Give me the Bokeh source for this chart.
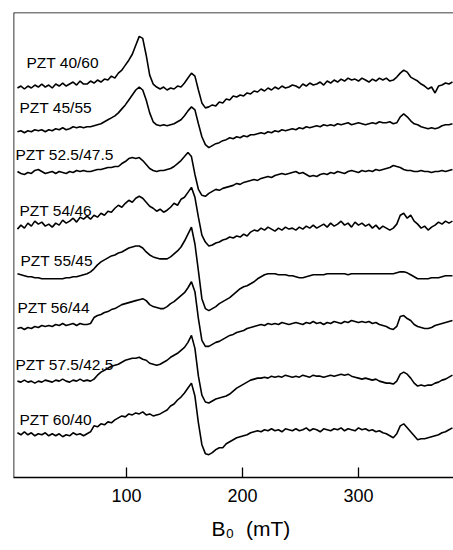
from bokeh.plotting import figure
from bokeh.models import Range1d, Span, Title, FixedTicker
from bokeh.embed import file_html
from bokeh.resources import INLINE
from bokeh.core.properties import value

# magnetic field sampling (mT)
field_mT = list(range(6, 382, 3))

samples = ["PZT 40/60", "PZT 45/55", "PZT 52.5/47.5", "PZT 54/46",
           "PZT 55/45", "PZT 56/44", "PZT 57.5/42.5", "PZT 60/40"]

# vertical stacking offset of each spectrum (a.u.)
offsets = [392, 348, 308, 252, 203, 150, 97, 44]

# EPR signal of each sample relative to its own baseline (a.u.)
sig_40_60 = [0, 2, -1, 2, 0, 3, 1, 4, 1, 3,
             0, 4, 2, 5, 2, 4, 6, 3, 7, 4,
             4, 7, 5, 8, 6, 9, 8, 12, 10, 15,
             18, 23, 28, 34, 43, 52, 50, 33, 13, 4,
             1, -1, 1, -2, 0, -1, 2, 1, 5, 10,
             15, 12, -2, -15, -20, -19, -17, -18, -14, -15,
             -11, -12, -8, -9, -7, -8, -5, -6, -3, -4,
             -1, -3, 0, -2, 1, -1, 2, 0, 1, 3,
             2, 0, 4, 2, 5, 3, 4, 6, 3, 7,
             5, 8, 6, 9, 7, 10, 8, 9, 7, 10,
             8, 6, 9, 7, 10, 8, 10, 7, 8, 11,
             15, 18, 16, 11, 9, 7, 4, 2, -1, 1,
             -5, 2, 3, 5, 4, 6]
sig_45_55 = [0, 1, -1, 1, 0, 2, 1, 2, 0, 2,
             1, 3, 2, 4, 2, 3, 5, 4, 5, 4,
             5, 5, 6, 7, 8, 10, 12, 14, 16, 19,
             23, 27, 32, 37, 42, 45, 42, 32, 19, 10,
             7, 6, 7, 6, 7, 8, 10, 12, 16, 21,
             25, 22, 8, -5, -13, -16, -14, -12, -11, -9,
             -8, -6, -7, -5, -6, -4, -5, -3, -3, -2,
             -1, -2, 0, -1, 1, 0, 2, 1, 2, 3,
             2, 4, 3, 5, 4, 5, 6, 5, 7, 6,
             7, 6, 8, 7, 8, 9, 7, 8, 9, 8,
             7, 8, 9, 8, 10, 9, 9, 10, 8, 9,
             15, 18, 15, 11, 8, 7, 5, 4, 3, 4,
             3, 4, 6, 7, 7, 8]
sig_52_5_47_5 = [0, -2, -3, -1, -2, 1, 2, 0, -2, -1,
                 0, -2, 0, -1, -2, 0, -1, 1, 0, 1,
                 0, 0, 1, 2, 2, 3, 4, 4, 5, 5,
                 8, 10, 13, 14, 13, 14, 11, 7, 3, 1,
                 0, 1, 1, 2, 3, 5, 8, 11, 15, 19,
                 15, -3, -18, -24, -25, -22, -20, -18, -19, -17,
                 -16, -15, -14, -12, -13, -11, -10, -9, -8, -9,
                 -7, -6, -5, -6, -4, -3, -2, -3, -2, -1,
                 0, -2, -1, -3, -5, -4, -5, -3, -2, -3,
                 -1, -2, 0, -1, -2, 0, 1, 0, -1, 1,
                 0, 1, 0, 2, 1, 2, 3, 4, 6, 5,
                 4, 2, 1, 1, 0, 0, 1, 0, 0, -1,
                 0, 0, 1, 0, 1, 2]
sig_54_46 = [-2, 2, -1, 4, 1, 6, 3, 5, 1, 3,
             0, 4, 2, 7, 4, 6, 9, 5, 10, 8,
             11, 8, 12, 10, 14, 12, 16, 15, 19, 22,
             20, 24, 27, 25, 29, 31, 29, 25, 21, 19,
             16, 18, 15, 17, 20, 24, 22, 28, 30, 35,
             40, 30, 10, -8, -15, -19, -18, -16, -15, -13,
             -12, -10, -11, -9, -10, -7, -9, -5, -3, -4,
             -1, -3, 0, -2, -4, -1, -3, 0, -2, -1,
             -3, 0, -2, 1, -1, 2, -1, 1, 3, 0,
             4, 1, 3, 6, 2, 4, 0, 5, 2, 4,
             1, 3, -1, 2, -2, 1, -1, -3, -1, 3,
             12, 14, 9, 12, 6, 3, -1, 1, -3, 0,
             2, 5, 3, 6, 4, 6]
sig_55_45 = [2, 1, 0, -1, -1, -2, -2, -3, -3, -3,
             -3, -3, -3, -3, -2, -2, -1, -1, 0, 1,
             2, 4, 7, 11, 14, 16, 18, 20, 21, 23,
             24, 26, 28, 29, 30, 30, 28, 24, 21, 19,
             18, 17, 17, 17, 19, 22, 25, 29, 35, 42,
             49, 32, 5, -23, -33, -35, -33, -31, -28, -26,
             -24, -22, -19, -16, -13, -11, -10, -8, -6, -3,
             -1, 1, 2, 2, 2, 1, 1, 1, 0, 0,
             -1, -2, -2, -1, 0, 1, 1, 1, 1, 2,
             2, 2, 2, 2, 2, 1, 2, 2, 2, 2,
             2, 2, 2, 2, 2, 2, 2, 2, 2, 3,
             4, 4, 3, 1, -1, -3, -3, -3, -3, -2,
             -2, -2, -1, 0, 0, 0]
sig_56_44 = [0, 1, -1, 1, 0, 2, 1, 3, 2, 3,
             2, 4, 3, 5, 3, 4, 5, 3, 5, 4,
             4, 5, 11, 13, 14, 16, 17, 19, 20, 22,
             24, 25, 26, 27, 28, 29, 30, 28, 24, 22,
             21, 20, 20, 22, 25, 27, 30, 33, 36, 41,
             47, 37, 10, -12, -18, -18, -16, -14, -13, -11,
             -9, -7, -6, -4, -3, -2, 0, 1, 2, 3,
             4, 3, 5, 4, 5, 4, 6, 5, 4, 5,
             6, 5, 4, 6, 5, 7, 5, 6, 4, 6,
             5, 7, 6, 5, 7, 6, 8, 7, 6, 7,
             6, 7, 5, 6, 4, 3, 2, 0, -1, 2,
             12, 13, 10, 8, 4, 2, 1, 0, 0, 1,
             3, 4, 5, 6, 7, 8]
sig_57_5_42_5 = [0, -1, 1, -1, 0, -2, 0, -1, 1, 0,
                 -1, 1, 0, 2, 0, -1, 1, 0, 2, 0,
                 1, 0, 2, 6, 9, 11, 13, 15, 16, 17,
                 19, 21, 22, 23, 23, 24, 22, 21, 18, 17,
                 16, 17, 19, 21, 24, 26, 28, 31, 34, 39,
                 46, 33, 5, -14, -21, -22, -20, -18, -17, -16,
                 -15, -13, -10, -7, -5, -3, -1, 1, 2, 3,
                 3, 4, 3, 5, 4, 5, 4, 6, 5, 4,
                 5, 4, 6, 5, 4, 6, 5, 5, 4, 5,
                 6, 5, 6, 7, 6, 7, 5, 4, 3, 2,
                 3, 2, 1, 2, 0, -1, -2, -2, -3, 0,
                 7, 9, 7, 3, -2, -5, -4, -5, -4, -4,
                 -2, -1, 1, 2, 4, 6]
sig_60_40 = [1, -1, 2, -1, 1, -2, 0, -1, 1, -2,
             0, -2, 0, -3, -1, -2, 1, -1, 0, -2,
             0, 2, 8, 7, 10, 9, 12, 11, 14, 16,
             18, 17, 20, 19, 21, 20, 22, 19, 20, 18,
             19, 20, 22, 24, 28, 30, 34, 37, 41, 46,
             51, 38, 11, -11, -20, -21, -19, -16, -14, -14,
             -10, -8, -6, -4, -3, -2, -1, 1, 2, 3,
             2, 4, 3, 5, 3, 4, 2, 5, 4, 3,
             5, 3, 4, 6, 3, 5, 4, 2, 5, 4,
             3, 5, 4, 6, 3, 5, 4, 3, 6, 4,
             5, 3, 4, 2, 3, 1, 0, -2, -4, 0,
             8, 10, 6, 2, -2, -6, -5, -5, -4, -3,
             -2, -1, 1, 2, 4, 6]

signals = [sig_40_60, sig_45_55, sig_52_5_47_5, sig_54_46,
           sig_55_45, sig_56_44, sig_57_5_42_5, sig_60_40]

x_ticks = [100, 200, 300]
x_title = "B\u2080\u00a0\u00a0(mT)"

# layout of the sample labels (field position of left edge, height above baseline)
label_x = [13.8, 7.8, 4.3, 7.8, 8.6, 6.0, 4.3, 7.8]
label_dy = [26, 24, 17, 17, 15, 21, 17, 14]

X_MIN, X_MAX = 2.6, 381.9
Y_MIN, Y_MAX = 0, 468

FONT = "Liberation Sans"

p = figure(width=453, height=550, output_backend="svg", toolbar_location=None,
           x_range=Range1d(X_MIN, X_MAX), y_range=Range1d(Y_MIN, Y_MAX),
           min_border_left=13, min_border_right=0, min_border_top=12,
           min_border_bottom=70, y_axis_location=None)
p.outline_line_color = None
p.grid.visible = False
p.background_fill_color = "white"
p.border_fill_color = "white"

for off, sig in zip(offsets, signals):
    p.line(field_mT, [off + s for s in sig], line_color="black", line_width=1.6)

p.text(x=label_x, y=[o + d for o, d in zip(offsets, label_dy)], text=samples,
       text_font=value(FONT), text_font_size="15.5px", text_color="black",
       text_align="left", text_baseline="middle")

# frame lines (left and top)
p.add_layout(Span(location=X_MIN, dimension="height", line_color="black", line_width=1.6))
p.add_layout(Span(location=Y_MAX, dimension="width", line_color="black", line_width=1.6))

ax = p.xaxis[0]
ax.ticker = FixedTicker(ticks=x_ticks)
ax.minor_tick_line_color = None
ax.major_tick_in = 10
ax.major_tick_out = 0
ax.major_tick_line_width = 1.3
ax.axis_line_width = 1.4
ax.axis_line_color = "black"
ax.major_tick_line_color = "black"
ax.major_label_text_font = FONT
ax.major_label_text_font_size = "18px"
ax.major_label_text_color = "black"
ax.major_label_standoff = 11

# axis title  B0 (mT)
p.add_layout(Title(text=x_title, align="left", offset=198, standoff=21,
                   text_font=FONT, text_font_size="21px", text_font_style="normal",
                   text_color="black"), "below")

open("out.html", "w").write(file_html(p, INLINE))
